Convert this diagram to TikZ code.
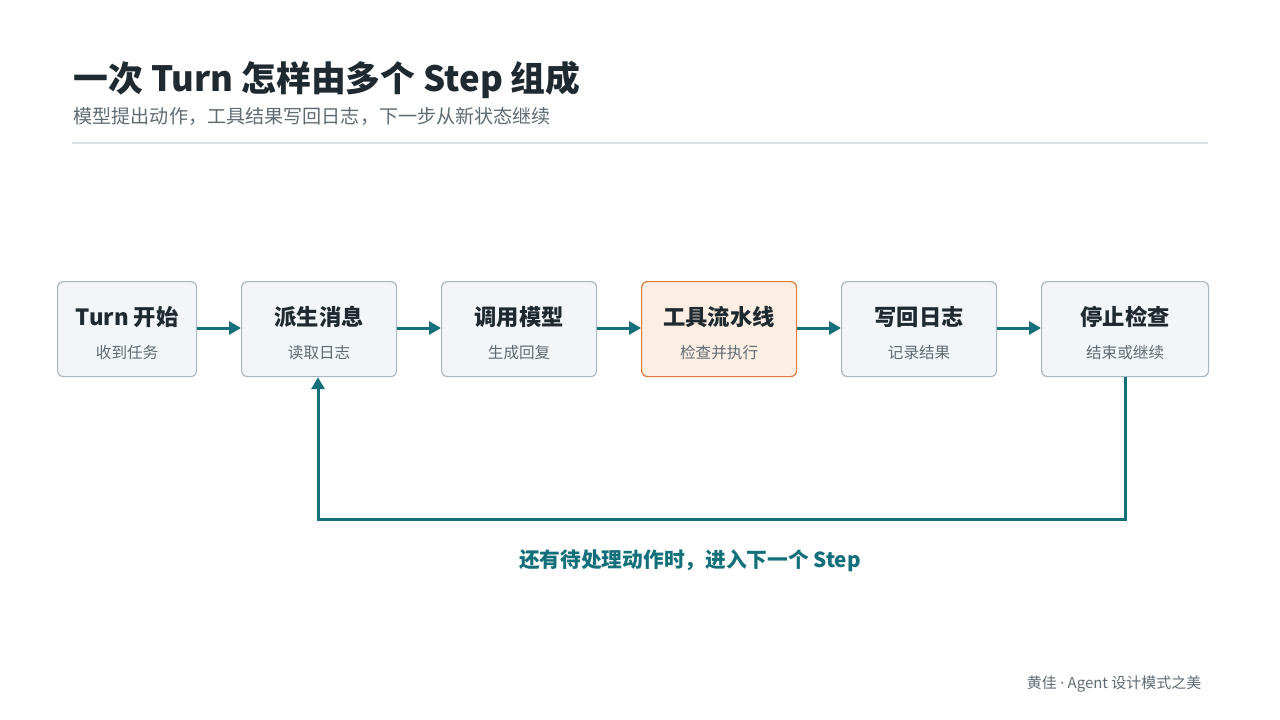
\documentclass[tikz,border=0pt]{standalone}
\usepackage{fontspec}
\setmainfont{Noto Sans CJK SC}
\newfontfamily\latinfont{Noto Sans}
\usetikzlibrary{arrows.meta}
\definecolor{ttl}{HTML}{1F2A30}
\definecolor{sub}{HTML}{5F6B73}
\definecolor{boxfill}{HTML}{F3F6F8}
\definecolor{boxline}{HTML}{A9B8C0}
\definecolor{hlfill}{HTML}{FDEEE4}
\definecolor{hlline}{HTML}{E07B39}
\definecolor{teal}{HTML}{13707A}
\definecolor{rule}{HTML}{DCE1E4}
\tikzset{
  stepbox/.style={draw=boxline, fill=boxfill, line width=1.2pt, rounded corners=6pt, anchor=north west, inner sep=0pt},
  hlbox/.style={stepbox, draw=hlline, fill=hlfill},
  boxtitle/.style={font=\fontsize{22.3}{24}\selectfont\bfseries, text=ttl},
  boxsub/.style={font=\fontsize{15.6}{17}\selectfont, text=sub},
  flow/.style={draw=teal, line width=3pt, -{Triangle[length=12pt,width=13pt]}},
}
\begin{document}
\begin{tikzpicture}[x=1pt,y=-1pt]
\useasboundingbox (0,0) rectangle (1280,720);
\node[anchor=west, font=\fontsize{34.8}{38}\selectfont\bfseries, text=ttl] (title) at (70,80) {一次 Turn 怎样由多个 Step 组成};
\node[anchor=west, font=\fontsize{19.1}{22}\selectfont, text=sub] (subtitle) at (70,116) {模型提出动作，工具结果写回日志，下一步从新状态继续};
\draw[rule, line width=1.2pt] (72,143) -- (1208,143);

\node[stepbox, minimum width=139pt, minimum height=95pt] (b1) at (57,281) {};
\node[stepbox, minimum width=155pt, minimum height=95pt] (b2) at (241,281) {};
\node[stepbox, minimum width=155pt, minimum height=95pt] (b3) at (441,281) {};
\node[hlbox, minimum width=155pt, minimum height=95pt] (b4) at (641,281) {};
\node[stepbox, minimum width=155pt, minimum height=95pt] (b5) at (841,281) {};
\node[stepbox, minimum width=167pt, minimum height=95pt] (b6) at (1041,281) {};

\foreach \b/\t/\s in {b1/Turn 开始/收到任务, b2/派生消息/读取日志, b3/调用模型/生成回复, b4/工具流水线/检查并执行, b5/写回日志/记录结果, b6/停止检查/结束或继续}{
  \node[boxtitle] (\b t) at ([yshift=-36pt]\b.north) {\t};
  \node[boxsub] (\b s) at ([yshift=-72pt]\b.north) {\s};
}

\draw[flow] (b1.east |- 0,328) -- (b2.west |- 0,328);
\draw[flow] (b2.east |- 0,328) -- (b3.west |- 0,328);
\draw[flow] (b3.east |- 0,328) -- (b4.west |- 0,328);
\draw[flow] (b4.east |- 0,328) -- (b5.west |- 0,328);
\draw[flow] (b5.east |- 0,328) -- (b6.west |- 0,328);

\coordinate (c1) at (1125,519);
\coordinate (c2) at (318,519);
\draw[flow, line cap=butt] (b6.south -| c1) -- (c1) -- (c2) -- (c2 |- b2.south);

\node[font=\fontsize{20.7}{22}\selectfont\bfseries, text=teal] (loop) at (690,561) {还有待处理动作时，进入下一个 Step};
\node[anchor=east, font=\fontsize{15}{17}\selectfont, text=sub] (footer) at (1205,684) {黄佳 {\latinfont·} Agent 设计模式之美};
\end{tikzpicture}
\end{document}
